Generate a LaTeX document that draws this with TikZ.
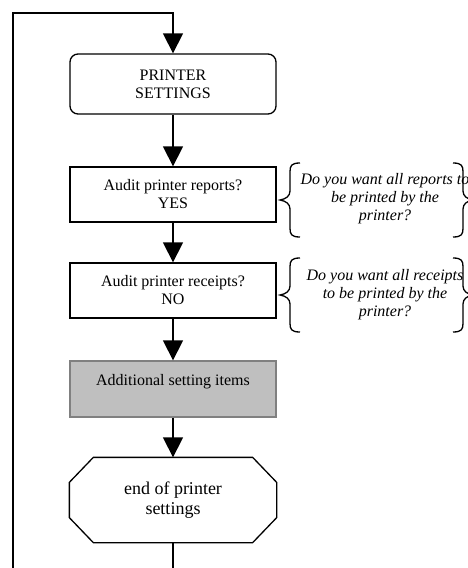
\documentclass[tikz,border=0pt]{standalone}
\usepackage{fontspec}
\setmainfont{Liberation Serif}
\usetikzlibrary{arrows.meta,calc}
\begin{document}
\begin{tikzpicture}[x=1pt,y=-1pt,
  line width=1.3pt,
  every node/.style={font=\fontsize{16}{18}\selectfont, align=center, inner sep=0pt},
  box/.style={draw, minimum width=206pt},
  arr/.style={-{Triangle[length=20pt,width=20pt]}},
  note/.style={font=\fontsize{16}{18}\selectfont\itshape, align=center},
  brc/.style={line width=1.3pt}]
\useasboundingbox (0,0) rectangle (468,568);
\clip (0,0) rectangle (468,568);

\node[box, rounded corners=8pt, minimum height=60pt] (ps) at (173,84) {PRINTER\\SETTINGS};
\node[box, minimum height=55pt] (rep) at (173,194.5) {Audit printer reports?\\YES};
\node[box, minimum height=55pt] (rec) at (173,290.5) {Audit printer receipts?\\NO};
\node[box, draw=black!50, fill=black!25, minimum height=56pt] (add) at (173,389) {Additional setting items\\\mbox{}};
\node[minimum width=206pt, minimum height=84pt, font=\fontsize{18}{20}\selectfont] (oct) at (173,500) {end of printer\\settings};
\draw ($(oct.north west)+(24,0)$) -- ($(oct.north east)+(-24,0)$) -- ($(oct.north east)+(0,25)$)
  -- ($(oct.south east)+(0,-25)$) -- ($(oct.south east)+(-24,0)$) -- ($(oct.south west)+(24,0)$)
  -- ($(oct.south west)+(0,-25)$) -- ($(oct.north west)+(0,25)$) -- cycle;

\draw[arr] (ps) -- (rep);
\draw[arr] (rep) -- (rec);
\draw[arr] (rec) -- (add);
\draw[arr] (add) -- (oct);
\draw[arr] (oct.south) -- ++(0,40) -| (13,13) -| (ps.north);

\node[note] (q1) at (385,199) {Do you want all reports to\\be printed by the\\printer?};
\node[note] (q2) at (385,295) {Do you want all receipts\\to be printed by the\\printer?};

\foreach \dy in {0,95}{
  \begin{scope}[yshift=-\dy pt]
  \draw[brc] (300,163) .. controls (291,163) and (290,166) .. (290,172) -- (290,191)
    .. controls (290,196) and (286,199) .. (280,200)
    .. controls (286,201) and (290,204) .. (290,209) -- (290,228)
    .. controls (290,234) and (291,237) .. (300,237);
  \draw[brc] (453,163) .. controls (462,163) and (463,166) .. (463,172) -- (463,191)
    .. controls (463,196) and (467,199) .. (473,200)
    .. controls (467,201) and (463,204) .. (463,209) -- (463,228)
    .. controls (463,234) and (462,237) .. (453,237);
  \end{scope}
}
\end{tikzpicture}
\end{document}
